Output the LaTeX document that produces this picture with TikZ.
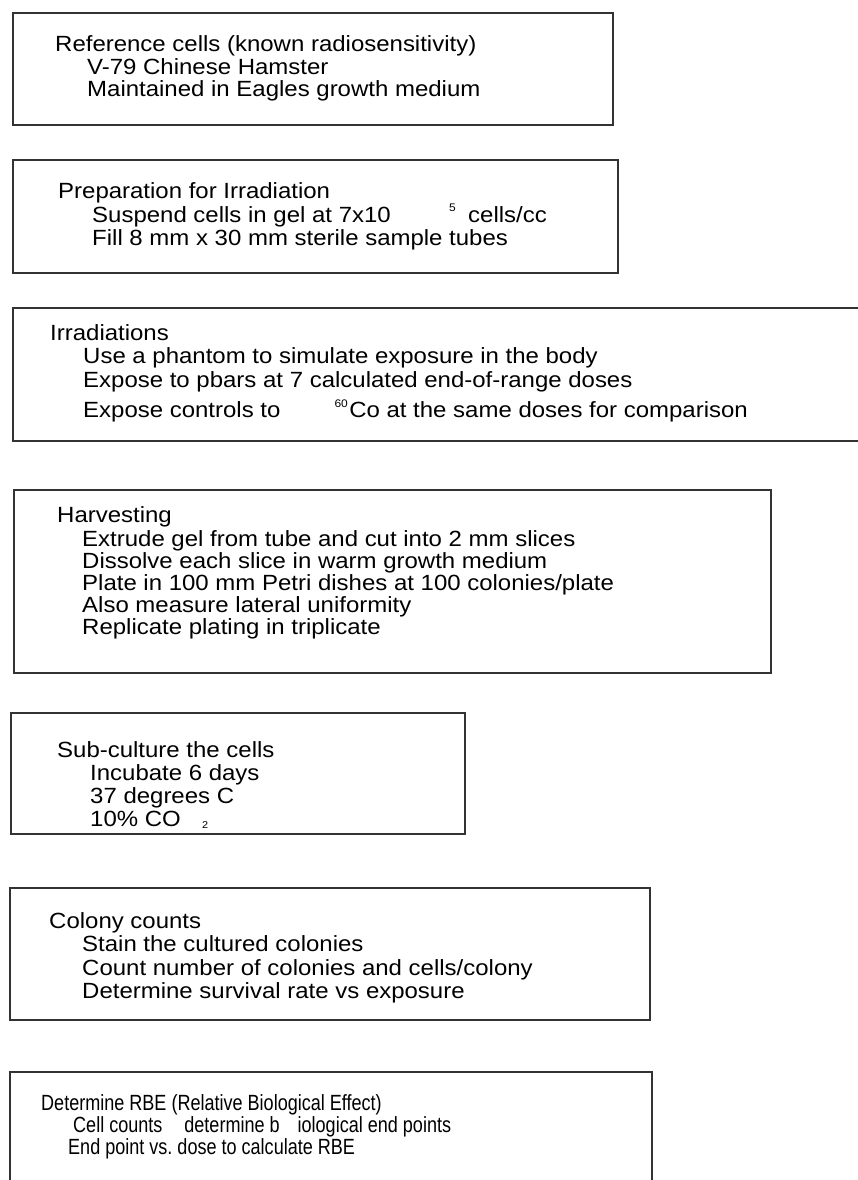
\documentclass[tikz,border=0pt]{standalone}
\usepackage{fontspec}
\setmainfont{Liberation Sans}[FakeStretch=1.09]
\newfontfamily\narrowsans{Liberation Sans}[FakeStretch=0.82]
\usepackage{tikz}

\begin{document}
\begin{tikzpicture}[x=1pt,y=-1pt,
   txt/.style={anchor=base west,inner sep=0pt,font=\fontsize{22}{22}\selectfont},
   supr/.style={anchor=base west,inner sep=0pt,font=\fontsize{11}{11}\selectfont},
   stage/.style={draw=black!80,line width=1.2pt}]
 \useasboundingbox (0,0) rectangle (857,1180);

 % reference cells
 \draw[stage] (13,13) rectangle (613,125);
   \draw (55,52) node[txt] (refTitle) {Reference cells (known radiosensitivity)};
   \draw (87,74.5) node[txt] (refLine) {V-79 Chinese Hamster};
   \draw (87,97) node[txt] (refMedium) {Maintained in Eagles growth medium};

 % preparation
 \draw[stage] (13,160) rectangle (618,273);
   \draw (58,198) node[txt] (prepTitle) {Preparation for Irradiation};
   \draw (92,222) node[txt] (prepGel) {Suspend cells in gel at 7x10};
   \draw (449,211) node[supr] (prepExp) {5};
   \draw (468,222) node[txt] (prepUnit) {cells/cc};
   \draw (92,245) node[txt] (prepTubes) {Fill 8 mm x 30 mm sterile sample tubes};

 % irradiations
 \draw[stage] (13,308) rectangle (880,441);
   \draw (50,340) node[txt] (irrTitle) {Irradiations};
   \draw (83,363) node[txt] (irrPhantom) {Use a phantom to simulate exposure in the body};
   \draw (83,387) node[txt] (irrPbar) {Expose to pbars at 7 calculated end-of-range doses};
   \draw (83,417) node[txt] (irrCtrl) {Expose controls to};
   \draw (748,417) node[txt,anchor=base east] (irrCo) {Co at the same doses for comparison};
   \draw (irrCo.base west) ++(-1,-10) node[supr,anchor=base east] (irrIso) {60};

 % harvesting
 \draw[stage] (14,490) rectangle (771,673);
   \draw (57,522) node[txt] (harvTitle) {Harvesting};
   \draw (82,546) node[txt] (harvCut) {Extrude gel from tube and cut into 2 mm slices};
   \draw (82,568) node[txt] (harvSolve) {Dissolve each slice in warm growth medium};
   \draw (82,590) node[txt] (harvPlate) {Plate in 100 mm Petri dishes at 100 colonies/plate};
   \draw (82,612) node[txt] (harvLat) {Also measure lateral uniformity};
   \draw (82,634) node[txt] (harvRep) {Replicate plating in triplicate};

 % sub-culture
 \draw[stage] (11,713) rectangle (465,834);
   \draw (57,757) node[txt] (subTitle) {Sub-culture the cells};
   \draw (90,780) node[txt] (subDays) {Incubate 6 days};
   \draw (90,803) node[txt] (subTemp) {37 degrees C};
   \draw (90,826) node[txt] (subGas) {10\% CO};
   \draw (202,828) node[supr,font=\fontsize{10}{10}\selectfont] (subTwo) {2};

 % colony counts
 \draw[stage] (10,888) rectangle (650,1020);
   \draw (49,928) node[txt] (colTitle) {Colony counts};
   \draw (82,951) node[txt] (colStain) {Stain the cultured colonies};
   \draw (82,975) node[txt] (colCount) {Count number of colonies and cells/colony};
   \draw (82,998) node[txt] (colRate) {Determine survival rate vs exposure};

 % RBE
 \draw[stage] (10,1072) rectangle (652,1200);
   \draw (41,1110) node[txt,font=\narrowsans\fontsize{22}{22}\selectfont] (rbeTitle) {Determine RBE (Relative Biological Effect)};
   \draw (73,1132) node[txt,font=\narrowsans\fontsize{22}{22}\selectfont] (rbeCells) {Cell counts\hspace{22pt}determine b\hspace{18pt}iological end points};
   \draw (68,1154) node[txt,font=\narrowsans\fontsize{22}{22}\selectfont] (rbeDose) {End point vs.\ dose to calculate RBE};
\end{tikzpicture}
\end{document}
